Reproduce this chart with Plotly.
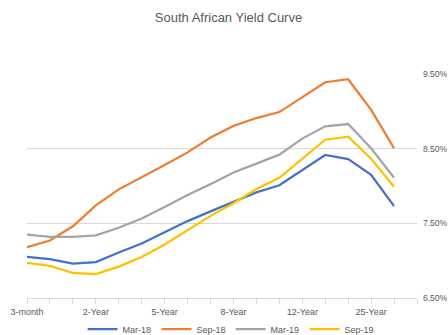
import plotly.graph_objects as go

categories = ["3-month", "6-month", "1-Year", "2-Year", "3-Year", "4-Year", "5-Year",
              "6-Year", "7-Year", "8-Year", "9-Year", "10-Year", "12-Year", "15-Year",
              "20-Year", "25-Year", "30-Year", " "]
tick_labels = ["3-month", "", "", "2-Year", "", "", "5-Year", "", "", "8-Year", "", "",
               "12-Year", "", "", "25-Year", "", ""]

mar18 = [7.05, 7.02, 6.96, 6.98, 7.11, 7.23, 7.38, 7.53, 7.66, 7.79, 7.915, 8.01, 8.21, 8.415, 8.36, 8.15, 7.73]
sep18 = [7.18, 7.27, 7.46, 7.74, 7.955, 8.115, 8.28, 8.45, 8.65, 8.805, 8.91, 8.99, 9.19, 9.39, 9.43, 9.02, 8.505]
mar19 = [7.35, 7.32, 7.32, 7.34, 7.44, 7.565, 7.72, 7.88, 8.025, 8.18, 8.30, 8.42, 8.635, 8.80, 8.83, 8.505, 8.11]
sep19 = [6.97, 6.93, 6.835, 6.82, 6.92, 7.05, 7.217, 7.41, 7.60, 7.77, 7.96, 8.11, 8.365, 8.62, 8.66, 8.365, 7.99]

series = [("Mar-18", mar18, "#4472C4"), ("Sep-18", sep18, "#ED7D31"),
          ("Mar-19", mar19, "#A5A5A5"), ("Sep-19", sep19, "#FFC000")]

fig = go.Figure()
for name, vals, color in series:
    fig.add_trace(go.Scatter(x=categories[:len(vals)], y=[v / 100 for v in vals], name=name,
                             mode="lines", line=dict(color=color, width=2.25)))

fnt = "Liberation Sans"
fig.update_layout(
    width=448, height=335,
    margin=dict(l=27, r=31, t=74, b=37, autoexpand=False),
    paper_bgcolor="white", plot_bgcolor="white",
    font=dict(family=fnt, color="#595959", size=9),
    title=dict(text="South African Yield Curve", x=0.51, xanchor="center",
               y=1 - 17 / 335, yanchor="middle", yref="container",
               font=dict(size=13, color="#595959", family=fnt)),
    showlegend=True,
    legend=dict(orientation="h", x=0.522, xanchor="center", xref="paper",
                y=1 - 329 / 335, yanchor="middle", yref="container",
                bgcolor="rgba(0,0,0,0)", entrywidth=29, entrywidthmode="pixels",
                font=dict(size=9, color="#595959"), itemwidth=30, tracegroupgap=0),
    xaxis=dict(type="category", categoryorder="array", categoryarray=categories,
               range=[0, len(categories) - 1], tickmode="array", tickvals=categories,
               ticktext=tick_labels, ticks="outside", ticklen=5, tickcolor="#D9D9D9",
               showline=True, linecolor="#D9D9D9", linewidth=1, showgrid=False,
               automargin=False, tickfont=dict(size=9, color="#595959")),
    yaxis=dict(side="right", range=[0.065, 0.095], tickvals=[0.065, 0.075, 0.085, 0.095],
               tickformat=".2%", showgrid=True, gridcolor="#D9D9D9", gridwidth=1,
               zeroline=False, showline=False, ticks="", ticklabelstandoff=5,
               automargin=False, tickfont=dict(size=8.5, color="#595959")),
)
fig.write_html("out.html")
